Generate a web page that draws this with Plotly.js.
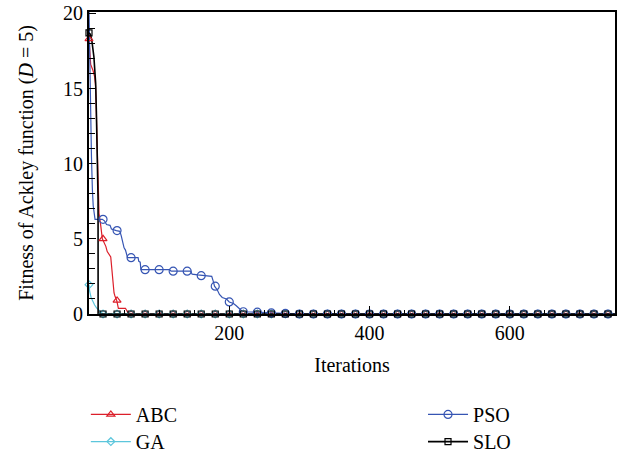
<!DOCTYPE html>
<html>
<head>
<meta charset="utf-8">
<script src="https://cdn.plot.ly/plotly-3.0.1.min.js"></script>
<style>html,body{margin:0;padding:0;background:#fff;}#chart{width:622px;height:455px;}</style>
</head>
<body>
<div id="chart"></div>
<script>
// Detailed convergence curves (iteration, fitness)
var abcX = [0, 1, 2.4, 5.7, 8, 9.5, 10.5, 11, 12, 12.9, 14.3, 16.7, 19, 24, 26, 31, 33, 35.7, 37, 39.5, 41.9, 52, 56, 60, 750];
var abcY = [18.3, 17.2, 16.6, 16.2, 15.8, 15.1, 13.5, 12, 10.5, 9.4, 6.7, 5.9, 5.0, 4.5, 4.15, 3.8, 2.5, 1.4, 1.2, 0.9, 0.38, 0.38, 0.05, 0, 0];

var gaX = [0, 1, 3, 5, 8, 11, 14, 17, 20, 750];
var gaY = [1.95, 1.5, 1.1, 0.85, 0.6, 0.4, 0.25, 0.1, 0, 0];

var psoX = [0, 1, 2.4, 3.5, 4.8, 6, 8.6, 19, 22, 25, 30, 32, 39, 44, 46, 48, 50, 52, 55, 70, 71, 73, 74, 115, 117, 145, 147, 155, 170, 175, 177, 179, 183, 186, 190, 196, 200, 206, 210, 214, 218, 222, 235, 240, 255, 262, 280, 297, 300, 750];
var psoY = [20.2, 17, 13.1, 10.5, 8.3, 7.2, 6.3, 6.3, 6.2, 5.95, 5.9, 5.65, 5.55, 5.5, 5.2, 4.7, 4.4, 4.25, 3.75, 3.75, 3.5, 3.45, 2.95, 2.95, 2.85, 2.85, 2.65, 2.6, 2.55, 2.5, 2.2, 1.85, 1.6, 1.3, 1.1, 1.0, 0.8, 0.7, 0.55, 0.4, 0.2, 0.15, 0.15, 0.12, 0.1, 0.07, 0.05, 0.02, 0, 0];

var sloX = [0, 2, 4, 6, 7, 8, 9.5, 10.5, 11, 12, 12.9, 13, 750];
var sloY = [18.7, 18.6, 18.2, 17.6, 17.1, 16.4, 15.35, 13.5, 12, 9.5, 7.6, 0, 0];

// Marker positions (every 20 iterations)
var markX = [0, 20, 40, 60, 80, 100, 120, 140, 160, 180, 200, 220, 240, 260, 280, 300, 320, 340, 360, 380, 400, 420, 440, 460, 480, 500, 520, 540, 560, 580, 600, 620, 640, 660, 680, 700, 720, 740];
var abcM = [18.3, 5.0, 0.9, 0, 0, 0, 0, 0, 0, 0, 0, 0, 0, 0, 0, 0, 0, 0, 0, 0, 0, 0, 0, 0, 0, 0, 0, 0, 0, 0, 0, 0, 0, 0, 0, 0, 0, 0];
var gaM  = [1.95, 0, 0, 0, 0, 0, 0, 0, 0, 0, 0, 0, 0, 0, 0, 0, 0, 0, 0, 0, 0, 0, 0, 0, 0, 0, 0, 0, 0, 0, 0, 0, 0, 0, 0, 0, 0, 0];
var psoM = [20.2, 6.3, 5.55, 3.75, 2.95, 2.95, 2.85, 2.85, 2.55, 1.85, 0.8, 0.15, 0.12, 0.07, 0.04, 0, 0, 0, 0, 0, 0, 0, 0, 0, 0, 0, 0, 0, 0, 0, 0, 0, 0, 0, 0, 0, 0, 0];
var sloM = [18.7, 0, 0, 0, 0, 0, 0, 0, 0, 0, 0, 0, 0, 0, 0, 0, 0, 0, 0, 0, 0, 0, 0, 0, 0, 0, 0, 0, 0, 0, 0, 0, 0, 0, 0, 0, 0, 0];

var names = ['ABC', 'GA', 'PSO', 'SLO'];
var xTickVals = [200, 400, 600];
var yTickVals = [0, 5, 10, 15, 20];

var colors = {ABC: '#dc1f2a', GA: '#5cc6dc', PSO: '#3655b3', SLO: '#000000'};
var symbols = {ABC: 'triangle-up-open', GA: 'diamond-open', PSO: 'circle-open', SLO: 'square-open'};
var sizes = {ABC: 7, GA: 6, PSO: 8, SLO: 6};
var widths = {ABC: 1.2, GA: 1.2, PSO: 1.2, SLO: 1.6};
var legendOf = {ABC: 'legend', GA: 'legend2', PSO: 'legend3', SLO: 'legend4'};

var lineData = {ABC: [abcX, abcY], GA: [gaX, gaY], PSO: [psoX, psoY], SLO: [sloX, sloY]};
var markData = {ABC: abcM, GA: gaM, PSO: psoM, SLO: sloM};

var traces = [];
names.forEach(function (n) {
  traces.push({
    type: 'scatter', mode: 'lines', x: lineData[n][0], y: lineData[n][1],
    line: {color: colors[n], width: widths[n]}, showlegend: false, hoverinfo: 'skip', cliponaxis: false
  });
});
names.forEach(function (n) {
  traces.push({
    type: 'scatter', mode: 'markers', x: markX, y: markData[n],
    marker: {symbol: symbols[n], size: sizes[n], color: colors[n], line: {width: 1.2, color: colors[n]}},
    showlegend: false, cliponaxis: false
  });
});
names.forEach(function (n) {
  traces.push({
    type: 'scatter', mode: 'lines+markers', x: [null], y: [null], name: n, legend: legendOf[n],
    line: {color: colors[n], width: widths[n]},
    marker: {symbol: symbols[n], size: sizes[n], color: colors[n], line: {width: 1.2, color: colors[n]}}
  });
});

var font = {family: '"Liberation Serif", "Times New Roman", serif', size: 20, color: '#000'};

var legendBase = {orientation: 'v', xanchor: 'left', yanchor: 'top', font: font,
  bgcolor: 'rgba(0,0,0,0)', itemwidth: 40};
var colLeft = -0.006, colRight = 0.635, rowTop = -0.268, rowBottom = -0.358;

var layout = {
  width: 622, height: 455,
  margin: {l: 89, r: 7, t: 12, b: 141, autoexpand: false},
  paper_bgcolor: '#fff', plot_bgcolor: '#fff',
  font: font,
  showlegend: true,
  legend: Object.assign({}, legendBase, {x: colLeft, y: rowTop}),
  legend2: Object.assign({}, legendBase, {x: colLeft, y: rowBottom}),
  legend3: Object.assign({}, legendBase, {x: colRight, y: rowTop}),
  legend4: Object.assign({}, legendBase, {x: colRight, y: rowBottom}),
  xaxis: {
    range: [0, 750], showgrid: false, zeroline: false,
    showline: true, linecolor: '#000', linewidth: 2, mirror: true,
    tickmode: 'array', tickvals: xTickVals, ticks: 'inside', ticklen: 8, tickwidth: 1.3, tickcolor: '#000',
    minor: {dtick: 50, tick0: 0, ticks: 'inside', ticklen: 4, tickwidth: 1, tickcolor: '#000'},
    title: {text: 'Iterations', font: font, standoff: 15},
    automargin: false
  },
  yaxis: {
    range: [0, 20.09], showgrid: false, zeroline: false,
    showline: true, linecolor: '#000', linewidth: 2, mirror: true,
    tickmode: 'array', tickvals: yTickVals, ticks: 'inside', ticklen: 7, tickwidth: 1.3, tickcolor: '#000',
    minor: {dtick: 1, tick0: 0, ticks: 'inside', ticklen: 6, tickwidth: 1, tickcolor: '#000'},
    title: {text: 'Fitness of Ackley function (<i>D</i> = 5)', font: font, standoff: 24},
    automargin: false
  }
};

Plotly.newPlot('chart', traces, layout, {displayModeBar: false, staticPlot: true});
</script>
</body>
</html>
